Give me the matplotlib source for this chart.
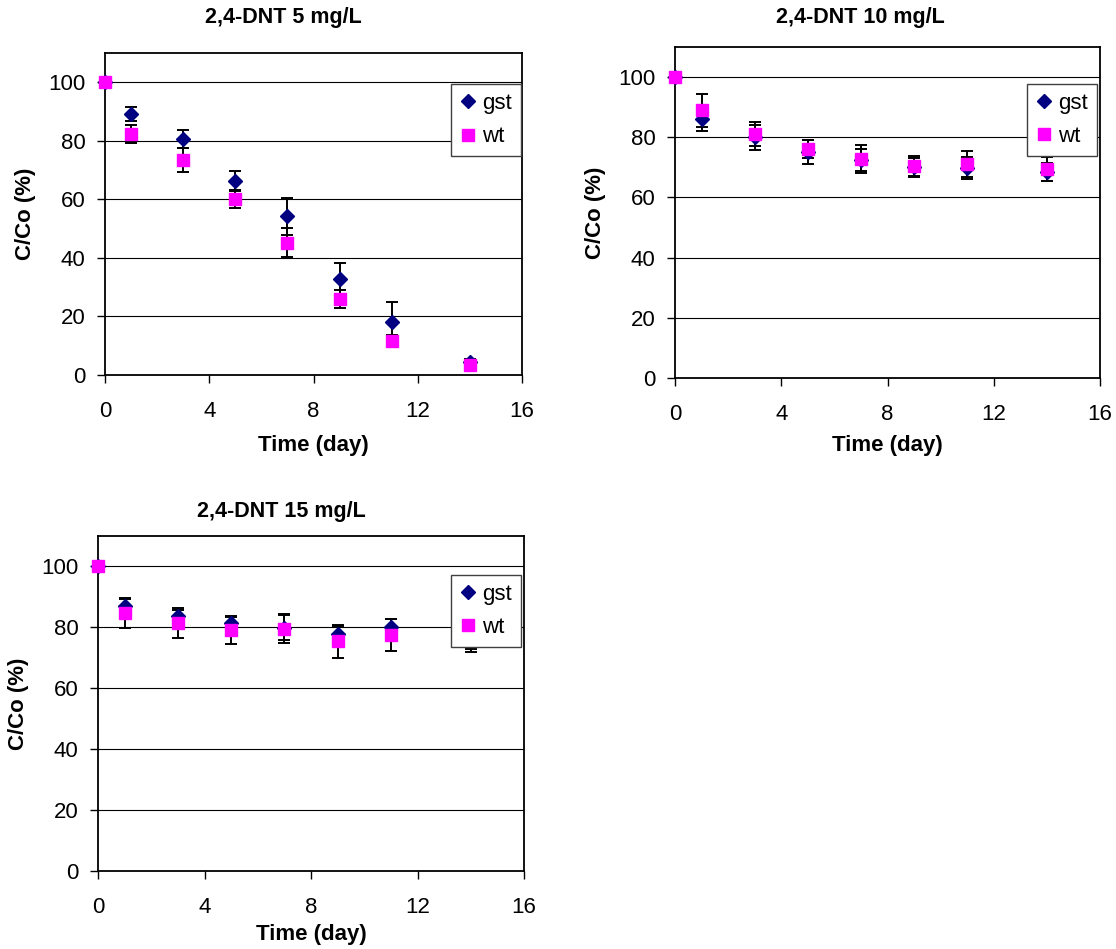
import matplotlib
matplotlib.use("Agg")
import matplotlib.pyplot as plt

plt.rcParams['font.family'] = ['Liberation Sans', 'DejaVu Sans']

days = [0, 1, 3, 5, 7, 9, 11, 14]

# 2,4-DNT 5 mg/L
gst5 = [100, 89.1, 80.6, 66.4, 54.2, 32.7, 18.0, 4.6]
gst5_err = [0, 2.3, 3.2, 3.4, 6.4, 5.4, 7.0, 1.0]
wt5 = [100, 82.3, 73.5, 60.2, 45.2, 25.9, 11.7, 3.4]
wt5_err = [0, 3.2, 4.0, 3.0, 5.0, 3.0, 2.0, 1.0]

# 2,4-DNT 10 mg/L
gst10 = [100, 86.1, 80.0, 75.1, 72.5, 70.0, 69.7, 68.4]
gst10_err = [0, 4.0, 4.2, 4.0, 3.6, 3.1, 3.6, 3.0]
wt10 = [100, 88.9, 81.0, 76.0, 72.7, 70.5, 71.1, 69.4]
wt10_err = [0, 5.4, 4.0, 3.0, 4.7, 3.4, 4.3, 4.0]

# 2,4-DNT 15 mg/L
gst15 = [100, 86.9, 83.8, 81.4, 79.9, 77.9, 80.1, 77.0]
gst15_err = [0, 2.4, 2.0, 2.0, 4.0, 2.6, 2.5, 5.0]
wt15 = [100, 84.7, 81.4, 79.0, 79.6, 75.4, 77.4, 76.0]
wt15_err = [0, 4.8, 4.8, 4.6, 4.7, 5.4, 5.2, 3.0]

titles = ["2,4-DNT 5 mg/L", "2,4-DNT 10 mg/L", "2,4-DNT 15 mg/L"]
xticks = [0, 4, 8, 12, 16]
yticks = [0, 20, 40, 60, 80, 100]

W, H = 1116, 949
fig = plt.figure(figsize=(W / 100, H / 100), dpi=100)


def px_axes(l, t, r, b):
    return fig.add_axes([l / W, 1 - b / H, (r - l) / W, (b - t) / H])


panels = [
    # axes box (px), title center (px), legend anchor, xlabel pad
    ((105, 53, 522, 375), (283, 18), (0.997, 0.903), 9, gst5, gst5_err, wt5, wt5_err),
    ((675, 47, 1100, 378), (860, 18), (0.992, 0.888), 7, gst10, gst10_err, wt10, wt10_err),
    ((98, 536, 524, 871), (281, 511), (0.993, 0.884), 4, gst15, gst15_err, wt15, wt15_err),
]

for (box, tpos, lpos, xpad, g, ge, w, we), title in zip(panels, titles):
    ax = px_axes(*box)
    ax.set_xlim(0, 16)
    ax.set_ylim(0, 110)
    ax.set_xticks(xticks)
    ax.set_yticks(yticks)
    for y in yticks[1:]:
        ax.axhline(y, color="black", lw=0.8, zorder=1)

    ax.errorbar(days, g, yerr=ge, fmt="none", ecolor="black", elinewidth=1.4,
                capsize=4.5, capthick=1.4, zorder=2)
    ax.errorbar(days, w, yerr=we, fmt="none", ecolor="black", elinewidth=1.4,
                capsize=4.5, capthick=1.4, zorder=2)
    ax.plot(days, g, ls="none", marker="D", ms=7.5, color="#000080",
            label="gst", zorder=3, clip_on=False)
    ax.plot(days, w, ls="none", marker="s", ms=8.5, color="#FF00FF",
            label="wt", zorder=4, clip_on=False)

    for s in ax.spines.values():
        s.set_linewidth(1.3)
        s.set_color("black")
    ax.tick_params(axis="y", direction="out", length=6, width=1, pad=8, labelsize=16)
    ax.tick_params(axis="x", direction="out", length=6, width=1, pad=13, labelsize=16)

    ax.set_xlabel("Time (day)", fontsize=16, fontweight="bold", labelpad=xpad)
    ax.set_ylabel("C/Co (%)", fontsize=16, fontweight="bold", labelpad=9)
    fig.text(tpos[0] / W, 1 - tpos[1] / H, title, ha="center", va="center",
             fontsize=15.5, fontweight="bold")

    leg = ax.legend(loc="upper right", bbox_to_anchor=lpos, fontsize=16,
                    frameon=True, fancybox=False, framealpha=1, edgecolor="#404040",
                    handlelength=0.7, handletextpad=0.3, labelspacing=0.55,
                    borderpad=0.4, borderaxespad=0)
    leg.get_frame().set_linewidth(1)
    leg.set_zorder(10)

fig.savefig("out.png", dpi=100)
